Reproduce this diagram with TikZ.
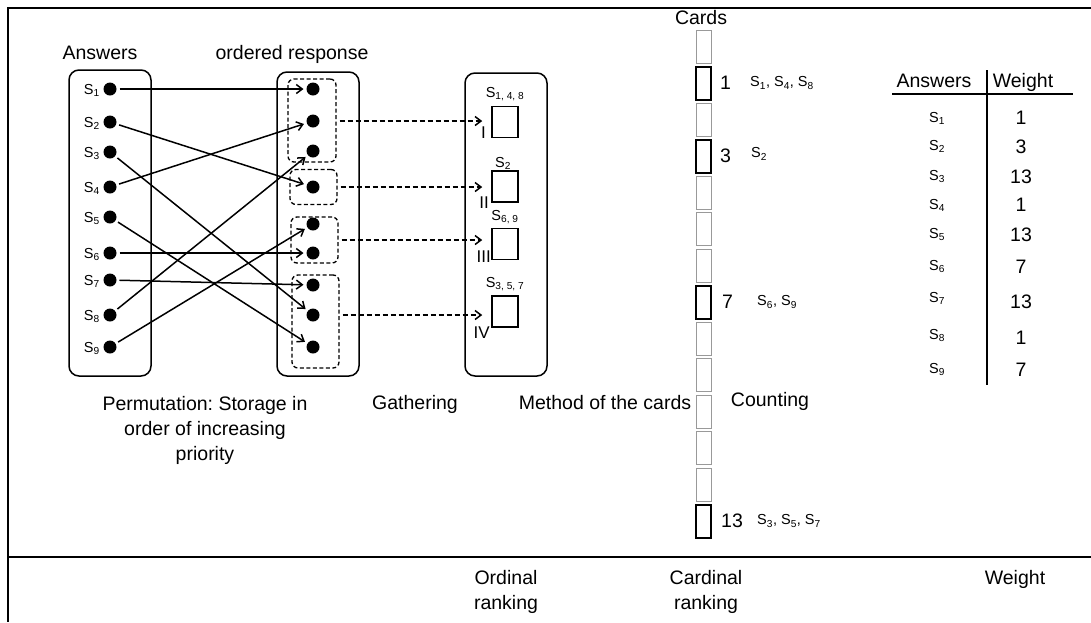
\documentclass[tikz,border=0pt]{standalone}
\usepackage{fontspec}
\setmainfont{Liberation Sans}
\usetikzlibrary{arrows.meta}
\newcommand{\Sb}[1]{S\textsubscript{#1}}
\frenchspacing
\begin{document}
\begin{tikzpicture}[x=1pt,y=-1pt,
 txt/.style={font=\fontsize{19.5}{25}\selectfont, inner sep=0pt},
 stxt/.style={font=\fontsize{14.5}{16}\selectfont, inner sep=0pt},
 dot/.style={circle, fill=black, minimum size=13pt, inner sep=0pt, outer sep=3pt},
 bigbox/.style={draw, line width=1.5pt, rounded corners=10pt, inner sep=0pt},
 grp/.style={draw, line width=1.3pt, rounded corners=6pt, dash pattern=on 4pt off 2.5pt, inner sep=0pt},
 arr/.style={line width=1.5pt, -{Straight Barb[length=6pt,width=9pt]}},
 darr/.style={line width=1.5pt, dash pattern=on 5pt off 3pt, -{Straight Barb[length=6pt,width=9pt]}},
 sq/.style={draw, line width=1.5pt, minimum width=26pt, minimum height=31pt, inner sep=0pt},
 card/.style={draw=black!40, line width=0.8pt, minimum width=15pt, minimum height=33pt, inner sep=0pt},
 bcard/.style={draw=black, line width=2pt, minimum width=15pt, minimum height=33pt, inner sep=0pt},
 tline/.style={line width=1.5pt},
 frame/.style={line width=2pt}
]
\useasboundingbox (0,0) rectangle (1091,622);
% frame
\coordinate (ftr) at (1091,8);
\coordinate (ftl) at (8,8);
\coordinate (fbl) at (8,622);
\coordinate (sl) at (8,557);
\coordinate (sr) at (1091,557);
\draw[frame] (ftr) -- (ftl) -- (fbl);
\draw[frame] (sl) -- (sr);

% big boxes
\node[bigbox, minimum width=82pt, minimum height=306pt] (ansbox) at (110,223) {};
\node[bigbox, minimum width=82pt, minimum height=304pt] (ordbox) at (318,224) {};
\node[bigbox, minimum width=82pt, minimum height=303pt] (gatbox) at (506,224.5) {};

\node[txt, anchor=base] (lansw) at (100,59) {Answers};
\node[txt, anchor=base] (lord) at (292,59) {ordered response};

% answer dots
\foreach \y [count=\i] in {89,122,152,187,217,253,280,315,347}{
  \node[dot] (a\i) at (110,\y) {};
  \node[stxt, anchor=base east] (la\i) at (100,\y+5) {\Sb{\i}};
}
% ordered dots
\foreach \y [count=\i] in {89,121,151,187,224,253,285,315,347}{
  \node[dot] (o\i) at (313,\y) {};
}
% permutation arrows
\foreach \s/\t in {1/1,2/4,3/8,4/2,5/9,6/6,7/7,8/3,9/5}{
  \draw[arr] (a\s) -- (o\t);
}
% dashed groups
\node[grp, minimum width=48pt, minimum height=83pt] (g1) at (312,120.5) {};
\node[grp, minimum width=47pt, minimum height=35pt] (g2) at (313.5,187) {};
\node[grp, minimum width=47pt, minimum height=46pt] (g3) at (314.5,240) {};
\node[grp, minimum width=47pt, minimum height=93pt] (g4) at (315.5,321.5) {};

% squares
\node[sq] (sq1) at (505,122) {};
\node[sq] (sq2) at (505,186.5) {};
\node[sq] (sq3) at (505,244) {};
\node[sq] (sq4) at (505,311.5) {};

\draw[darr, shorten <=3pt, shorten >=9pt] (g1.east |- o2) -- (o2 -| sq1.west);
\draw[darr, shorten <=3pt, shorten >=9pt] (g2.east) -- (g2.east -| sq2.west);
\draw[darr, shorten <=3pt, shorten >=9pt] (g3.east) -- (g3.east -| sq3.west);
\draw[darr, shorten <=3pt, shorten >=9pt] (g4.east |- o8) -- (o8 -| sq4.west);

\node[stxt, anchor=base] (s1) at (505,97) {\Sb{1, 4, 8}};
\node[stxt, anchor=base] (s2) at (503,167) {\Sb{2}};
\node[stxt, anchor=base] (s3) at (505,220) {\Sb{6, 9}};
\node[stxt, anchor=base] (s4) at (505,287) {\Sb{3, 5, 7}};

\node[txt, anchor=base east, font=\fontsize{17}{20}\selectfont] (r1) at (486,138) {I};
\node[txt, anchor=base east, font=\fontsize{17}{20}\selectfont] (r2) at (489,208) {II};
\node[txt, anchor=base east, font=\fontsize{17}{20}\selectfont] (r3) at (491,262) {III};
\node[txt, anchor=base east, font=\fontsize{17}{20}\selectfont] (r4) at (490,338) {IV};

% cards
\node[txt] (lcards) at (701,18) {Cards};
\foreach \i in {0,2,4,5,6,8,9,10,11,12}{
  \node[card] (c\i) at (703.5,46.5+\i*36.5) {};
}
\foreach \i in {1,3,7,13}{
  \node[bcard] (c\i) at (703.5,46.5+\i*36.5) {};
}
\node[txt, anchor=west] (n1) at (720,83) {1};
\node[stxt, anchor=west] (m1) at (750,83) {\Sb{1}, \Sb{4}, \Sb{8}};
\node[txt, anchor=west] (n3) at (720,156) {3};
\node[stxt, anchor=west] (m3) at (751,154) {\Sb{2}};
\node[txt, anchor=west] (n7) at (722,302) {7};
\node[stxt, anchor=west] (m7) at (757,302) {\Sb{6}, \Sb{9}};
\node[txt, anchor=west] (n13) at (721,521) {13};
\node[stxt, anchor=west] (m13) at (757,521) {\Sb{3}, \Sb{5}, \Sb{7}};

% table
\coordinate (vt) at (987,70);
\coordinate (vb) at (987,385);
\coordinate (hl) at (892,94);
\coordinate (hr) at (1073,94);
\draw[tline] (vt) -- (vb);
\draw[tline] (hl) -- (hr);
\node[txt, anchor=base] (tha) at (934,87) {Answers};
\node[txt, anchor=base] (thw) at (1023,87) {Weight};
\foreach \y/\w [count=\i] in {117/1,145/3,175/13,204/1,233/13,265/7,297/13,334/1,368/7}{
  \node[stxt, anchor=base] (ts\i) at (937,\y+5) {\Sb{\i}};
}
\foreach \y/\w [count=\i] in {118/1,147/3,177/13,205/1,235/13,267/7,302/13,338/1,370/7}{
  \node[txt, anchor=base] (tw\i) at (1021,\y+6.5) {\w};
}

% captions
\node[txt, anchor=north, align=center] (cperm) at (205,396) {Permutation: Storage in\\order of increasing\\priority};
\node[txt, anchor=base] (cgat) at (415,409) {Gathering};
\node[txt, anchor=base] (cmet) at (605,409) {Method of the cards};
\node[txt, anchor=base] (ccou) at (770,406) {Counting};

\node[txt, anchor=north, align=center] (bord) at (506,570) {Ordinal\\ranking};
\node[txt, anchor=north, align=center] (bcar) at (706,570) {Cardinal\\ranking};
\node[txt, anchor=north] (bwei) at (1015,570) {Weight};
\end{tikzpicture}
\end{document}
